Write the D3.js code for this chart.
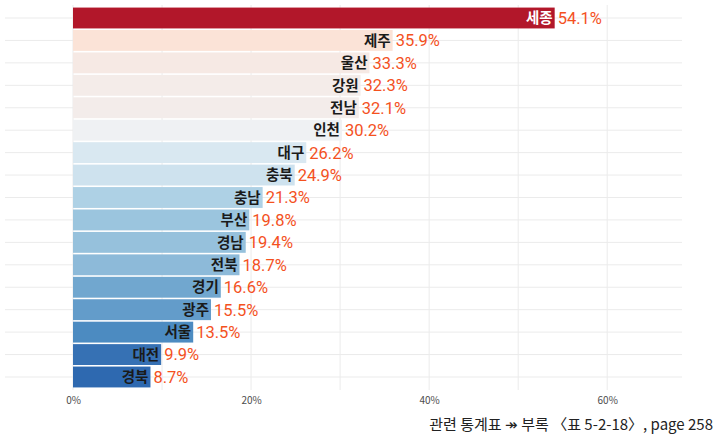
<!DOCTYPE html>
<html>
<head>
<meta charset="utf-8">
<script src="https://cdn.jsdelivr.net/npm/d3@7"></script>
<style>
  body { margin: 0; background: #fff; }
  svg { display: block; }
</style>
</head>
<body>
<div id="chart"></div>
<script>
// regions, top to bottom
var regions = ["세종", "제주", "울산", "강원", "전남", "인천", "대구", "충북", "충남", "부산", "경남", "전북", "경기", "광주", "서울", "대전", "경북"];
var rates = [54.1, 35.9, 33.3, 32.3, 32.1, 30.2, 26.2, 24.9, 21.3, 19.8, 19.4, 18.7, 16.6, 15.5, 13.5, 9.9, 8.7];
var tickValues = [0, 20, 40, 60];
var caption = "관련 통계표 ↠ 부록 〈표 5-2-18〉, page 258";

var width = 718, height = 436;
var font = "'Noto Sans CJK KR', 'Noto Sans', sans-serif";

var svg = d3.select("#chart").append("svg")
	.attr("width", width)
	.attr("height", height);

var x = d3.scaleLinear()
	.domain([0, 68.4])
	.range([73, 682]);

var y = d3.scaleBand()
	.domain(regions)
	.range([6, 389])
	.padding(0.07);

var color = d3.scaleLinear()
	.domain([8, 14, 21, 26, 30, 36, 54])
	.range(["#2a64ad", "#4f8ec3", "#abd0e4", "#d8e7f1", "#eff1f4", "#fbe3d6", "#b2182b"]);

// grid
svg.selectAll("line.hgrid")
	.data(regions)
	.enter()
	.append("line")
	.attr("class", "hgrid")
	.attr("x1", 5)
	.attr("x2", 682)
	.attr("y1", function (d) { return y(d) + y.bandwidth() / 2; })
	.attr("y2", function (d) { return y(d) + y.bandwidth() / 2; })
	.style("stroke", "#ebebeb")
	.style("stroke-width", 1);

svg.selectAll("line.vgrid")
	.data(d3.range(0, 70, 10))
	.enter()
	.append("line")
	.attr("class", "vgrid")
	.attr("x1", function (d) { return x(d); })
	.attr("x2", function (d) { return x(d); })
	.attr("y1", 5)
	.attr("y2", 390)
	.style("stroke", "#ebebeb")
	.style("stroke-width", 1);

// bars
svg.selectAll("rect.bar")
	.data(regions)
	.enter()
	.append("rect")
	.attr("class", "bar")
	.attr("x", x(0))
	.attr("y", function (d) { return y(d); })
	.attr("width", function (d, i) { return x(rates[i]) - x(0); })
	.attr("height", y.bandwidth())
	.style("fill", function (d, i) { return color(rates[i]); });

// region names inside bar end
svg.selectAll("text.name")
	.data(regions)
	.enter()
	.append("text")
	.attr("class", "name")
	.attr("x", function (d, i) { return x(rates[i]) - 2; })
	.attr("y", function (d) { return y(d) + y.bandwidth() / 2; })
	.attr("dy", "0.36em")
	.attr("text-anchor", "end")
	.style("font-family", font)
	.style("font-size", "14.5px")
	.style("font-weight", "bold")
	.style("fill", function (d, i) { return i == 0 ? "#ffffff" : "#1a1a1a"; })
	.text(function (d) { return d; });

// values after bar end
svg.selectAll("text.value")
	.data(regions)
	.enter()
	.append("text")
	.attr("class", "value")
	.attr("x", function (d, i) { return x(rates[i]) + 3; })
	.attr("y", function (d) { return y(d) + y.bandwidth() / 2; })
	.attr("dy", "0.36em")
	.style("font-family", "Roboto, 'Liberation Sans', sans-serif")
	.style("font-size", "16.5px")
	.style("fill", "#f4511e")
	.text(function (d, i) { return rates[i].toFixed(1) + "%"; });

// x axis labels
var xAxis = d3.axisBottom(x)
	.tickValues(tickValues)
	.tickSize(0)
	.tickPadding(6)
	.tickFormat(function (d) { return d + "%"; });

var gx = svg.append("g")
	.attr("transform", "translate(0,391)")
	.call(xAxis);
gx.select(".domain").remove();
gx.selectAll("text")
	.style("font-family", font)
	.style("font-size", "10px")
	.style("fill", "#4d4d4d");

// source note
svg.append("text")
	.attr("x", 713)
	.attr("y", 430)
	.attr("text-anchor", "end")
	.style("font-family", font)
	.style("font-size", "15px")
	.style("fill", "#222")
	.text(caption);
</script>
</body>
</html>
